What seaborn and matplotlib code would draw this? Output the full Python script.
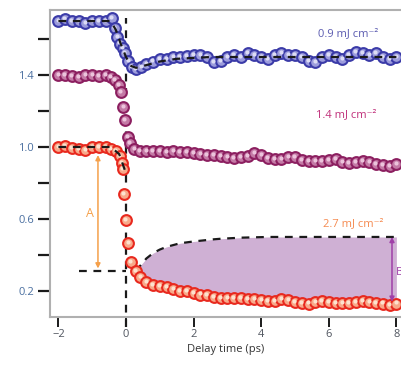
import numpy as np
import pandas as pd
import matplotlib
matplotlib.use("Agg")
import matplotlib.pyplot as plt
import seaborn as sns

# ---------------- data ----------------
blue_x = [-2.0, -1.8, -1.6, -1.4, -1.2, -1.0, -0.8, -0.6, -0.42, -0.33, -0.26, -0.18, -0.1, -0.03,
          0.07, 0.17, 0.3, 0.45, 0.6, 0.8, 1.0, 1.2, 1.4, 1.6, 1.8, 2.0, 2.2, 2.4, 2.6, 2.8, 3.0,
          3.2, 3.4, 3.6, 3.8, 4.0, 4.2, 4.4, 4.6, 4.8, 5.0, 5.2, 5.4, 5.6, 5.8, 6.0, 6.2, 6.4,
          6.6, 6.8, 7.0, 7.2, 7.4, 7.6, 7.8, 8.0]
blue_y = [1.70, 1.71, 1.70, 1.70, 1.69, 1.70, 1.70, 1.70, 1.715, 1.66, 1.61, 1.575, 1.55, 1.52,
          1.48, 1.445, 1.435, 1.445, 1.46, 1.475, 1.49, 1.49, 1.50, 1.50, 1.505, 1.51, 1.51, 1.50,
          1.47, 1.48, 1.50, 1.51, 1.50, 1.52, 1.51, 1.50, 1.49, 1.51, 1.52, 1.51, 1.51, 1.50, 1.48,
          1.47, 1.50, 1.51, 1.50, 1.49, 1.51, 1.53, 1.52, 1.51, 1.52, 1.50, 1.49, 1.50]

mag_x = [-2.0, -1.8, -1.6, -1.4, -1.2, -1.0, -0.8, -0.6, -0.45, -0.33, -0.22, -0.15, -0.08, -0.04,
         0.05, 0.12, 0.25, 0.4, 0.6, 0.8, 1.0, 1.2, 1.4, 1.6, 1.8, 2.0, 2.2, 2.4, 2.6, 2.8, 3.0,
         3.2, 3.4, 3.6, 3.8, 4.0, 4.2, 4.4, 4.6, 4.8, 5.0, 5.2, 5.4, 5.6, 5.8, 6.0, 6.2, 6.4,
         6.6, 6.8, 7.0, 7.2, 7.4, 7.6, 7.8, 8.0]
mag_y = [1.40, 1.40, 1.395, 1.39, 1.40, 1.40, 1.395, 1.40, 1.39, 1.37, 1.345, 1.305, 1.22, 1.15,
         1.055, 1.02, 0.99, 0.98, 0.975, 0.98, 0.975, 0.97, 0.975, 0.97, 0.97, 0.965, 0.96, 0.955,
         0.955, 0.95, 0.945, 0.94, 0.945, 0.95, 0.965, 0.955, 0.94, 0.935, 0.935, 0.945, 0.945,
         0.925, 0.92, 0.92, 0.92, 0.925, 0.935, 0.915, 0.91, 0.915, 0.92, 0.915, 0.905, 0.90,
         0.895, 0.905]

red_pre_x = [-2.0, -1.8, -1.6, -1.4, -1.2, -1.0, -0.8, -0.6, -0.45, -0.3, -0.18, -0.13, -0.1,
             -0.06, 0.0, 0.07, 0.14]
red_pre_y = [1.00, 1.005, 0.995, 0.99, 0.985, 1.00, 1.00, 1.00, 0.99, 0.98, 0.95, 0.91, 0.875,
             0.74, 0.595, 0.465, 0.36]
red_post_x = [0.3, 0.42, 0.6, 0.8, 1.0, 1.2, 1.4, 1.6, 1.8, 2.0, 2.2, 2.4, 2.6, 2.8, 3.0, 3.2,
              3.4, 3.6, 3.8, 4.0, 4.2, 4.4, 4.6, 4.8, 5.0, 5.2, 5.4, 5.6, 5.8, 6.0, 6.2, 6.4,
              6.6, 6.8, 7.0, 7.2, 7.4, 7.6, 7.8, 8.0]
red_post_y = [0.31, 0.275, 0.25, 0.235, 0.225, 0.22, 0.21, 0.20, 0.20, 0.19, 0.18, 0.175, 0.165,
              0.16, 0.16, 0.16, 0.16, 0.155, 0.155, 0.15, 0.145, 0.145, 0.155, 0.15, 0.14, 0.135,
              0.13, 0.14, 0.145, 0.14, 0.135, 0.135, 0.135, 0.14, 0.145, 0.14, 0.135, 0.13, 0.12,
              0.13]
# upper envelope (dashed fit) on the red post-zero grid
env_y = [0.31, 0.34, 0.38, 0.41, 0.43, 0.445, 0.455, 0.465, 0.47, 0.475, 0.479, 0.483, 0.487,
         0.49, 0.492, 0.494, 0.496, 0.497, 0.498, 0.499, 0.50, 0.50, 0.50, 0.50, 0.50, 0.50,
         0.50, 0.50, 0.50, 0.50, 0.50, 0.50, 0.50, 0.50, 0.50, 0.50, 0.50, 0.50, 0.50, 0.50]

blue_fit_x = [-2.0, -0.45, -0.3, -0.15, 0.0, 0.15, 0.3, 0.6, 1.0, 1.5, 2.5, 8.0]
blue_fit_y = [1.70, 1.70, 1.65, 1.57, 1.50, 1.45, 1.44, 1.455, 1.475, 1.49, 1.50, 1.50]
red_fit_x = [-2.0, -0.45, -0.2, -0.05, 0.0]
red_fit_y = [1.00, 1.00, 0.96, 0.88, 0.85]

xticks = [-2, 0, 2, 4, 6, 8]
yticks = [0.2, 0.4, 0.6, 0.8, 1.0, 1.2, 1.4, 1.6]
ytick_labels = ["0.2", "", "0.6", "", "1.0", "", "1.4", ""]
labels = ["0.9 mJ cm⁻²", "1.4 mJ cm⁻²", "2.7 mJ cm⁻²"]

# ---------------- style ----------------
sns.set_style("white")
plt.rcParams["font.family"] = ["Open Sans", "DejaVu Sans"]

fig = plt.figure(figsize=(4.02, 3.65), dpi=100)
ax = fig.add_axes([50 / 402, 1 - 316.5 / 365, (402 - 50) / 402, (316.5 - 9.5) / 365])

# fill between envelope and red data
ax.fill_between(red_post_x, red_post_y, env_y, color="#cfb0d4", lw=0, zorder=1)

# guide dashed lines
dash = dict(color="#1a1a1a", lw=1.6, dashes=(3.5, 3.0))
ax.plot([0, 0], [0.0, 1.715], clip_on=False, zorder=2, **dash)
ax.plot([-1.4, 0], [0.313, 0.313], zorder=2, **dash)
sns.lineplot(x=red_post_x, y=env_y, ax=ax, zorder=2, **dash)

# markers
series = [
    (blue_x, blue_y, "#9c9cdc", "#3b3ba8", "#dcdcf4"),
    (mag_x, mag_y, "#c47aa6", "#8c1f60", "#ecc4dc"),
    (red_pre_x + red_post_x, red_pre_y + red_post_y, "#f8a98a", "#e8291e", "#fde2cf"),
]
for xs, ys, face, edge, hi in series:
    df = pd.DataFrame({"x": xs, "y": ys})
    sns.scatterplot(data=df, x="x", y="y", ax=ax, s=60, color=face, edgecolor=edge,
                    linewidth=1.5, zorder=3, legend=False)
    ax.scatter(np.array(xs) - 0.02, np.array(ys) + 0.006, s=9, color=hi, lw=0, zorder=4)

# fit lines over markers
sns.lineplot(x=blue_fit_x, y=blue_fit_y, ax=ax, zorder=5, **dash)
sns.lineplot(x=red_fit_x, y=red_fit_y, ax=ax, zorder=5, **dash)

# arrows
ax.annotate("", xy=(-0.83, 0.325), xytext=(-0.83, 0.955),
            arrowprops=dict(arrowstyle="<|-|>", color="#f5a04a", lw=1.1,
                            mutation_scale=7, shrinkA=0, shrinkB=0), zorder=2)
ax.text(-1.07, 0.63, "A", color="#f5a04a", fontsize=9, ha="center", va="center")
ax.annotate("", xy=(7.87, 0.14), xytext=(7.87, 0.50),
            arrowprops=dict(arrowstyle="<|-|>", color="#a040a8", lw=1.1,
                            mutation_scale=7, shrinkA=0, shrinkB=0), zorder=6)
ax.text(7.97, 0.30, "B", color="#a040a8", fontsize=8, ha="left", va="center", clip_on=False)

# labels
ax.text(5.68, 1.629, labels[0], color="#5b5bb0", fontsize=8, ha="left", va="center")
ax.text(5.62, 1.182, labels[1], color="#c0307a", fontsize=8, ha="left", va="center")
ax.text(5.83, 0.574, labels[2], color="#f58a50", fontsize=8, ha="left", va="center")

# axes
ax.set_xlim(-2.249, 8.166)
ax.set_ylim(0.058, 1.764)
ax.set_xticks(xticks)
ax.set_xticklabels(["−2", "0", "2", "4", "6", "8"])
ax.set_yticks(yticks)
ax.set_yticklabels(ytick_labels)
ax.set_xlabel("Delay time (ps)", fontsize=8, color="#333333", labelpad=3)
ax.set_ylabel("")
ax.tick_params(axis="y", direction="out", length=8.5, width=1.6, color="#1a1a1a",
               labelsize=8, labelcolor="#4a6fa0", pad=3, left=True)
ax.tick_params(axis="x", direction="out", length=7, width=1.4, color="#1a1a1a",
               labelsize=8, labelcolor="#50555f", pad=2, bottom=True)
for side in ["left", "top", "bottom"]:
    ax.spines[side].set_color("#b0b0b0")
    ax.spines[side].set_linewidth(1.5)
ax.spines["right"].set_visible(False)

fig.savefig("out.png", dpi=100)
